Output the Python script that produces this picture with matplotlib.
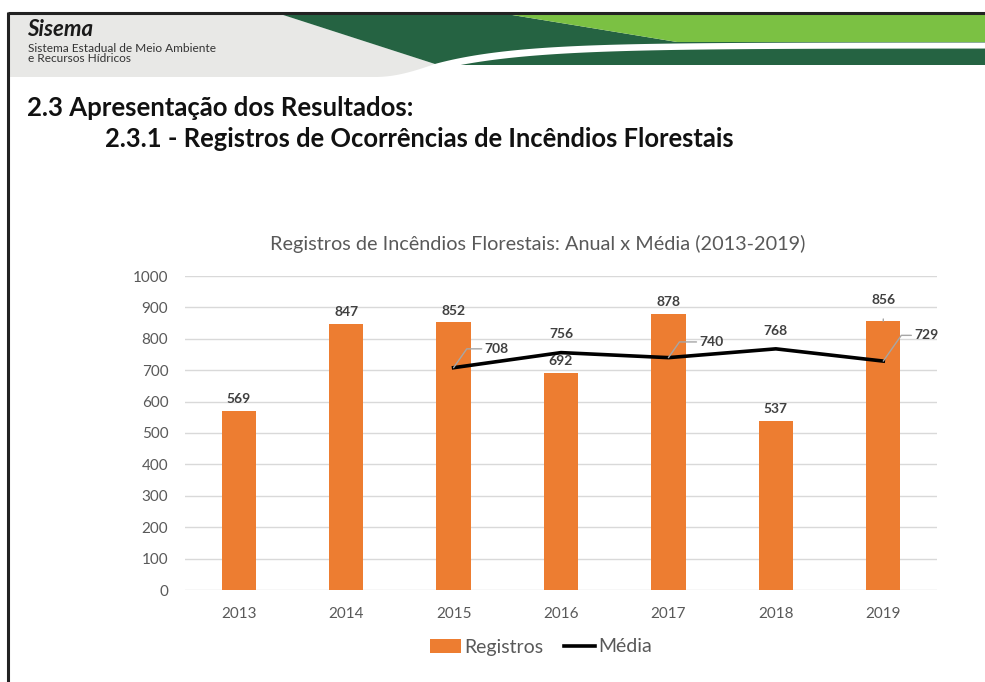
import matplotlib
matplotlib.use("Agg")
import matplotlib.pyplot as plt
import numpy as np
from matplotlib.patches import Polygon

plt.rcParams['font.family'] = ['Lato', 'DejaVu Sans']

# ---- data ----
years = ["2013", "2014", "2015", "2016", "2017", "2018", "2019"]
registros = [569, 847, 852, 692, 878, 537, 856]
media_years = ["2015", "2016", "2017", "2018", "2019"]
media = [708, 756, 740, 768, 729]
yticks = [0, 100, 200, 300, 400, 500, 600, 700, 800, 900, 1000]

title = "Registros de Incêndios Florestais: Anual x Média (2013-2019)"
heading1 = "2.3 Apresentação dos Resultados:"
heading2 = "2.3.1 - Registros de Ocorrências de Incêndios Florestais"

W, H = 985, 682
fig = plt.figure(figsize=(W / 100, H / 100), dpi=100)
fig.patch.set_facecolor("white")

# ---- decorative header (figure pixel coordinates) ----
bg = fig.add_axes([0, 0, 1, 1])
bg.set_xlim(0, W)
bg.set_ylim(H, 0)
bg.axis("off")

gray = "#e8e8e6"
dkgreen = "#256342"
ltgreen = "#7bc143"

# gray band with rounded lower-right edge
gcurve = [(435 - 60 * s, 64 + 13 * np.sin(s * np.pi / 2)) for s in np.linspace(0, 1, 30)]
bg.add_patch(Polygon([(8, 13), (277, 13), (435, 64)] + gcurve + [(8, 77)],
                     closed=True, fc=gray, ec="none"))
# dark green triangle and lower band
bg.add_patch(Polygon([(277, 13), (500, 13), (677, 42), (985, 42), (985, 65), (435, 65), (435, 64)],
                     closed=True, fc=dkgreen, ec="none"))
# light green band
bg.add_patch(Polygon([(500, 13), (985, 13), (985, 42), (677, 42)],
                     closed=True, fc=ltgreen, ec="none"))
# white swoosh
t = np.linspace(0, 1, 120)
def curve(x0, y0, yflat, k):
    xs = x0 + (985 - x0) * t
    ys = yflat + (y0 - yflat) * np.exp(-k * t)
    return list(zip(xs, ys))
upper = curve(433, 64.5, 42.5, 7.0)
lower = curve(458, 65.5, 48.5, 6.0)
bg.add_patch(Polygon(upper + lower[::-1] + [(440, 66)], closed=True, fc="white", ec="none"))
bg.add_patch(Polygon([(437, 65.2), (985, 65.2), (985, 84), (437, 84)], closed=True,
                     fc="white", ec="none"))

# frame lines
bg.plot([8, 985], [12.5, 12.5], color="#222222", lw=2.2, solid_capstyle="butt")
bg.plot([8, 8], [12, 682], color="#222222", lw=2.2, solid_capstyle="butt")

bg.text(27, 36, "Sisema", fontsize=16, fontweight="bold", fontstyle="italic",
        color="#1a1a1a", va="baseline", ha="left")
bg.text(28, 52, "Sistema Estadual de Meio Ambiente", fontsize=8.6, color="#333333",
        va="baseline", ha="left")
bg.text(28, 62, "e Recursos Hídricos", fontsize=8.6, color="#333333",
        va="baseline", ha="left")

bg.text(27, 116, heading1, fontsize=18.5, fontweight="bold", color="#111111",
        va="baseline", ha="left")
bg.text(105, 147, heading2, fontsize=18.4, fontweight="bold", color="#111111",
        va="baseline", ha="left")

# ---- chart ----
y0px, y1px = 590, 276
x0px, x1px = 185, 937
ax = fig.add_axes([x0px / W, (H - y0px) / H, (x1px - x0px) / W, (y0px - y1px) / H])
ax.set_facecolor("none")
x = np.arange(len(years))
bars = ax.bar(x, registros, width=0.32, color="#ED7D31", zorder=2, label="Registros")
mx = np.array([years.index(y) for y in media_years])
line, = ax.plot(mx, media, color="black", lw=2.6, zorder=3, label="Média")

ax.set_xlim(-0.5, len(years) - 0.5)
ax.set_ylim(0, 1000)
ax.set_yticks(yticks)
ax.set_yticklabels([str(v) for v in yticks])
ax.set_xticks(x)
ax.set_xticklabels(years)
ax.tick_params(axis="both", length=0, labelsize=11, labelcolor="#595959")
ax.tick_params(axis="y", pad=12)
ax.tick_params(axis="x", pad=12)
ax.grid(axis="y", color="#d9d9d9", lw=1, zorder=0)
for s in ax.spines.values():
    s.set_visible(False)

lblc = "#404040"
for i, v in enumerate(registros):
    if years[i] == "2019":
        ax.annotate(str(v), xy=(i, v), xytext=(i, v + 66), ha="center", va="center",
                    fontsize=10, fontweight="bold", color=lblc,
                    arrowprops=dict(arrowstyle="-", color="#a6a6a6", lw=1, shrinkA=7, shrinkB=0))
    else:
        ax.text(i, v + 38, str(v), ha="center", va="center", fontsize=10,
                fontweight="bold", color=lblc)

callout_dy = {"2015": 60, "2017": 50, "2019": 82}
for xi, v, yr in zip(mx, media, media_years):
    if yr in ("2016", "2018"):
        ax.text(xi, v + 58, str(v), ha="center", va="center", fontsize=10,
                fontweight="bold", color=lblc)
    else:
        ax.annotate(str(v), xy=(xi, v), xytext=(xi + 0.40, v + callout_dy[yr]),
                    ha="center", va="center",
                    fontsize=10, fontweight="bold", color=lblc,
                    arrowprops=dict(arrowstyle="-", color="#a6a6a6", lw=1,
                                    shrinkA=0, shrinkB=0,
                                    connectionstyle="angle,angleA=0,angleB=55,rad=0",
                                    relpos=(0, 0.5)))

fig.text(538 / W, (H - 244) / H, title, ha="center", va="center", fontsize=14.3,
         color="#595959")

leg = ax.legend([bars, line], ["Registros", "Média"], loc="center",
                bbox_to_anchor=((541 - x0px) / (x1px - x0px), (590 - 647) / (y0px - y1px)),
                ncol=2, frameon=False, fontsize=14, handlelength=1.6, handletextpad=0.15,
                columnspacing=1.1, labelcolor="#595959")

fig.savefig("out.png", dpi=100, facecolor="white")
